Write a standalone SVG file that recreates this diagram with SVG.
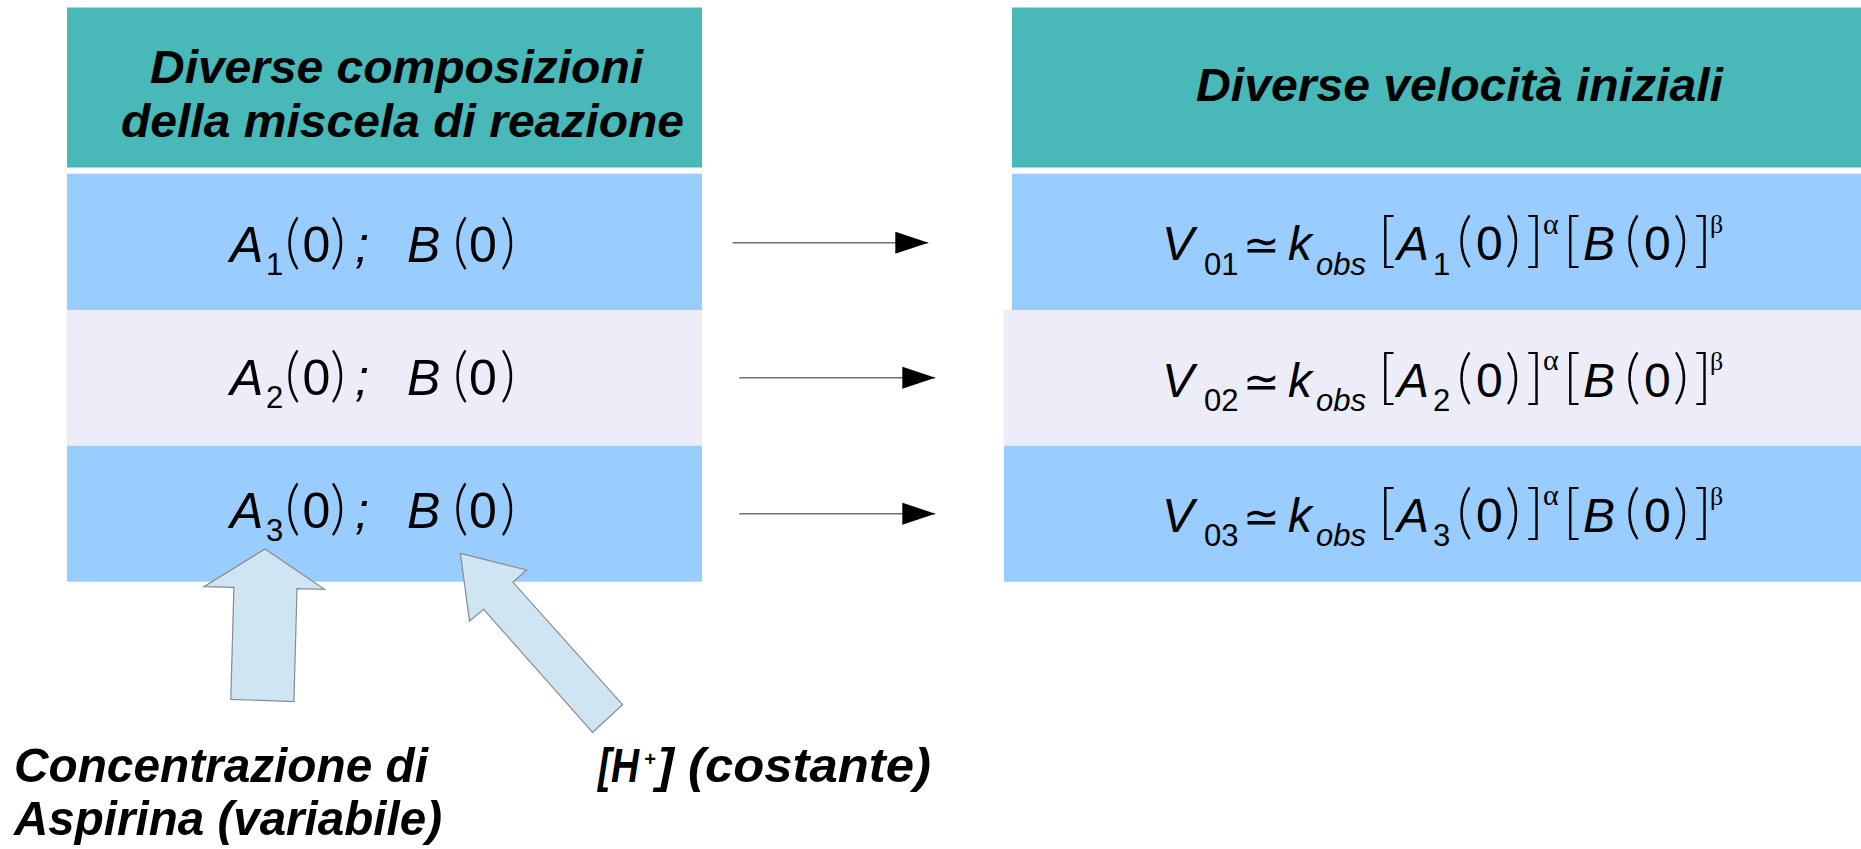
<svg xmlns="http://www.w3.org/2000/svg" width="1861" height="849" viewBox="0 0 1861 849">
  <style>
    .hdr { fill: #48B8B8; }
    .rowA { fill: #99CCFF; }
    .rowB { fill: #EDEDF9; }
    .lbl { font-family: "Liberation Sans", Arial, sans-serif; font-weight: bold; font-style: italic; font-size: 47px; fill: #000; }
    .big { font-size: 49px; }
    .m { font-family: "Liberation Sans", Arial, sans-serif; font-size: 50px; fill: #000; }
    .r { font-family: "Liberation Sans", Arial, sans-serif; font-size: 48px; fill: #000; }
    .i { font-style: italic; }
    .s { font-size: 31px; }
    .p { font-family: Lato, "Liberation Sans", sans-serif; font-weight: 300; font-style: normal; font-size: 60px; }
    .ga { font-family: "Liberation Serif", "Times New Roman", serif; font-size: 30px; font-style: normal; }
    .gb { font-family: "Liberation Serif", "Times New Roman", serif; font-size: 26px; font-style: normal; }
    .eq { font-family: "DejaVu Sans", sans-serif; font-size: 44px; font-style: normal; }
    .blk { fill: #CFE5F3; stroke: #8A8A8A; stroke-width: 1.2; stroke-linejoin: miter; }
    .conn { stroke: #6E6E6E; stroke-width: 1.4; fill: none; marker-end: url(#head); }
  </style>
  <defs>
    <marker id="head" markerUnits="userSpaceOnUse" markerWidth="34" markerHeight="24" refX="33" refY="11" orient="auto">
      <path d="M0,0 L33,11 L0,22 z" fill="#000"/>
    </marker>
  </defs>

  <rect width="1861" height="849" fill="#FFFFFF"/>

  <!-- left column: reaction mixture compositions -->
  <g id="left-header">
    <rect class="hdr" x="67" y="7.5" width="635" height="160"/>
    <text class="lbl" x="150" y="83" textLength="493" lengthAdjust="spacingAndGlyphs">Diverse composizioni</text>
    <text class="lbl" x="121" y="137" textLength="563" lengthAdjust="spacingAndGlyphs">della miscela di reazione</text>
  </g>

  <g id="left-row1">
    <rect class="rowA" x="67" y="173.7" width="635" height="136.3"/>
    <text class="m">
      <tspan class="i" x="230" y="262">A</tspan><tspan class="s" x="266" y="275">1</tspan><tspan class="p" x="285" y="262">(</tspan><tspan x="302.5" y="262">0</tspan><tspan class="p" x="330" y="262">)</tspan><tspan class="i" x="355" y="262">;</tspan><tspan class="i" x="407" y="262">B</tspan><tspan class="p" x="453" y="262">(</tspan><tspan x="469" y="262">0</tspan><tspan class="p" x="500" y="262">)</tspan>
    </text>
  </g>

  <g id="left-row2">
    <rect class="rowB" x="67" y="310" width="635" height="135.7"/>
    <text class="m">
      <tspan class="i" x="230" y="394.5">A</tspan><tspan class="s" x="266" y="407.5">2</tspan><tspan class="p" x="285" y="394.5">(</tspan><tspan x="302.5" y="394.5">0</tspan><tspan class="p" x="330" y="394.5">)</tspan><tspan class="i" x="355" y="394.5">;</tspan><tspan class="i" x="407" y="394.5">B</tspan><tspan class="p" x="453" y="394.5">(</tspan><tspan x="469" y="394.5">0</tspan><tspan class="p" x="500" y="394.5">)</tspan>
    </text>
  </g>

  <g id="left-row3">
    <rect class="rowA" x="67" y="445.7" width="635" height="136"/>
    <text class="m">
      <tspan class="i" x="230" y="528">A</tspan><tspan class="s" x="266" y="541">3</tspan><tspan class="p" x="285" y="528">(</tspan><tspan x="302.5" y="528">0</tspan><tspan class="p" x="330" y="528">)</tspan><tspan class="i" x="355" y="528">;</tspan><tspan class="i" x="407" y="528">B</tspan><tspan class="p" x="453" y="528">(</tspan><tspan x="469" y="528">0</tspan><tspan class="p" x="500" y="528">)</tspan>
    </text>
  </g>

  <!-- right column: initial rates -->
  <g id="right-header">
    <rect class="hdr" x="1012" y="7.5" width="849" height="160"/>
    <text class="lbl" x="1196" y="101" textLength="527" lengthAdjust="spacingAndGlyphs">Diverse velocità iniziali</text>
  </g>

  <g id="right-row1">
    <rect class="rowA" x="1012" y="173.7" width="849" height="136.3"/>
    <text class="r">
      <tspan class="i" x="1162" y="260">V</tspan><tspan class="s" x="1204" y="274.5">01</tspan><tspan class="eq" x="1243" y="260">≃</tspan><tspan class="i" x="1288" y="260">k</tspan><tspan class="i s" x="1316" y="274.5">obs</tspan><tspan class="p" x="1378" y="260">[</tspan><tspan class="i" x="1397" y="260">A</tspan><tspan class="s" x="1433" y="274.5">1</tspan><tspan class="p" x="1457" y="260">(</tspan><tspan x="1476" y="260">0</tspan><tspan class="p" x="1505" y="260">)</tspan><tspan class="p" x="1526" y="260">]</tspan><tspan class="ga" x="1543" y="233.5">α</tspan><tspan class="p" x="1563" y="260">[</tspan><tspan class="i" x="1583" y="260">B</tspan><tspan class="p" x="1625" y="260">(</tspan><tspan x="1644" y="260">0</tspan><tspan class="p" x="1673" y="260">)</tspan><tspan class="p" x="1694" y="260">]</tspan><tspan class="gb" x="1710" y="233">β</tspan>
    </text>
  </g>

  <g id="right-row2">
    <rect class="rowB" x="1004" y="310" width="857" height="135.7"/>
    <text class="r">
      <tspan class="i" x="1162" y="396.5">V</tspan><tspan class="s" x="1204" y="411">02</tspan><tspan class="eq" x="1243" y="396.5">≃</tspan><tspan class="i" x="1288" y="396.5">k</tspan><tspan class="i s" x="1316" y="411">obs</tspan><tspan class="p" x="1378" y="396.5">[</tspan><tspan class="i" x="1397" y="396.5">A</tspan><tspan class="s" x="1433" y="411">2</tspan><tspan class="p" x="1457" y="396.5">(</tspan><tspan x="1476" y="396.5">0</tspan><tspan class="p" x="1505" y="396.5">)</tspan><tspan class="p" x="1526" y="396.5">]</tspan><tspan class="ga" x="1543" y="370">α</tspan><tspan class="p" x="1563" y="396.5">[</tspan><tspan class="i" x="1583" y="396.5">B</tspan><tspan class="p" x="1625" y="396.5">(</tspan><tspan x="1644" y="396.5">0</tspan><tspan class="p" x="1673" y="396.5">)</tspan><tspan class="p" x="1694" y="396.5">]</tspan><tspan class="gb" x="1710" y="369.5">β</tspan>
    </text>
  </g>

  <g id="right-row3">
    <rect class="rowA" x="1004" y="445.7" width="857" height="136"/>
    <text class="r">
      <tspan class="i" x="1162" y="531.5">V</tspan><tspan class="s" x="1204" y="546">03</tspan><tspan class="eq" x="1243" y="531.5">≃</tspan><tspan class="i" x="1288" y="531.5">k</tspan><tspan class="i s" x="1316" y="546">obs</tspan><tspan class="p" x="1378" y="531.5">[</tspan><tspan class="i" x="1397" y="531.5">A</tspan><tspan class="s" x="1433" y="546">3</tspan><tspan class="p" x="1457" y="531.5">(</tspan><tspan x="1476" y="531.5">0</tspan><tspan class="p" x="1505" y="531.5">)</tspan><tspan class="p" x="1526" y="531.5">]</tspan><tspan class="ga" x="1543" y="505">α</tspan><tspan class="p" x="1563" y="531.5">[</tspan><tspan class="i" x="1583" y="531.5">B</tspan><tspan class="p" x="1625" y="531.5">(</tspan><tspan x="1644" y="531.5">0</tspan><tspan class="p" x="1673" y="531.5">)</tspan><tspan class="p" x="1694" y="531.5">]</tspan><tspan class="gb" x="1710" y="504.5">β</tspan>
    </text>
  </g>

  <!-- block arrows pointing at the concentrations -->
  <g id="arrow-aspirin">
    <polygon class="blk" points="265,549 324.5,589.3 297,588.7 293.9,701.7 230.8,699.3 233.9,587.3 203.9,586.7"/>
  </g>
  <g id="arrow-h">
    <polygon class="blk" points="460.4,553.3 526.5,570 513,582.3 622.6,704.7 592.6,732.3 483.6,609.3 469.5,621"/>
  </g>

  <g id="label-aspirin">
    <text class="lbl big" x="14" y="782" textLength="414" lengthAdjust="spacingAndGlyphs">Concentrazione di</text>
    <text class="lbl big" x="14" y="835" textLength="428" lengthAdjust="spacingAndGlyphs">Aspirina (variabile)</text>
  </g>
  <g id="label-h">
    <text class="lbl big" y="782"><tspan x="598" textLength="41" lengthAdjust="spacingAndGlyphs">[H</tspan><tspan x="644" y="766" font-size="20">+</tspan><tspan x="657" y="782" textLength="274" lengthAdjust="spacingAndGlyphs">] (costante)</tspan></text>
  </g>

  <!-- connectors between the two columns -->
  <g id="connectors">
    <path class="conn" d="M732.7,242.7 H928.3"/>
    <path class="conn" d="M739.3,377.7 H935.3"/>
    <path class="conn" d="M739.3,513.7 H935.3"/>
  </g>
</svg>
